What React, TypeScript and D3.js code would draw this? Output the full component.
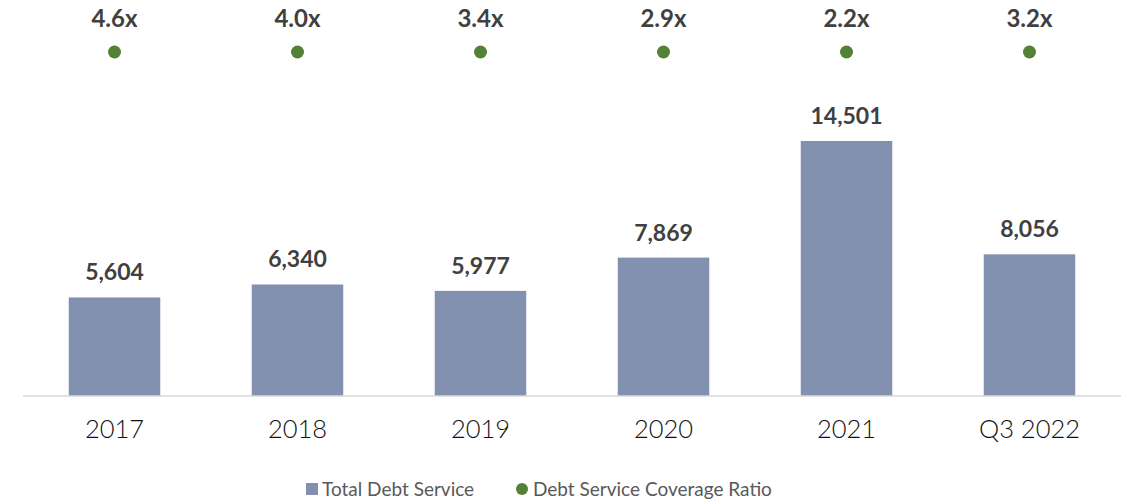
import React from "react";
import * as d3 from "d3";

const categories = ["2017", "2018", "2019", "2020", "2021", "Q3 2022"];
const debtService = [5604, 6340, 5977, 7869, 14501, 8056];
const coverageRatio = [4.6, 4.0, 3.4, 2.9, 2.2, 3.2];
const legendLabels = ["Total Debt Service", "Debt Service Coverage Ratio"];

const W = 1128;
const H = 502;
const FONT = "Lato, 'Open Sans', sans-serif";
const BAR = "#8391b1";
const GREEN = "#538135";

export default function App() {
  const x = d3.scaleBand<string>().domain(categories).range([23, 1121]).paddingInner(0.5).paddingOuter(0.25);
  const y = d3.scaleLinear().domain([0, 16000]).range([396, 114.6]);
  const fmt = d3.format(",");
  const ratioFmt = (v: number) => v.toFixed(1) + "x";

  return (
    <svg width={W} height={H} style={{ position: "absolute", left: 0, top: 0 }}>
      <rect width={W} height={H} fill="#fff" />
      {categories.map((c, i) => {
        const cx = x(c)! + x.bandwidth() / 2;
        return (
          <g key={c}>
            <rect x={x(c)} y={y(debtService[i])} width={x.bandwidth()} height={y(0) - y(debtService[i])} fill={BAR} />
            <text x={cx} y={y(debtService[i]) - 17} textAnchor="middle" fontFamily={FONT} fontWeight={700} fontSize={23} fill="#404040">
              {fmt(debtService[i])}
            </text>
            <text x={cx} y={27} textAnchor="middle" fontFamily={FONT} fontWeight={700} fontSize={24} fill="#404040">
              {ratioFmt(coverageRatio[i])}
            </text>
            <circle cx={cx} cy={52} r={6.5} fill={GREEN} />
            <text x={cx} y={438} textAnchor="middle" fontFamily={FONT} fontWeight={300} fontSize={25.5} fill="#111">
              {c}
            </text>
          </g>
        );
      })}
      <line x1={23} x2={1121} y1={396} y2={396} stroke="#d9d9d9" strokeWidth={1.5} />
      <g fontFamily={FONT} fontSize={19} fill="#595959">
        <rect x={306} y={483} width={12} height={12} fill={BAR} />
        <text x={322} y={496}>{legendLabels[0]}</text>
        <circle cx={522} cy={489} r={6} fill={GREEN} />
        <text x={533} y={496}>{legendLabels[1]}</text>
      </g>
    </svg>
  );
}
